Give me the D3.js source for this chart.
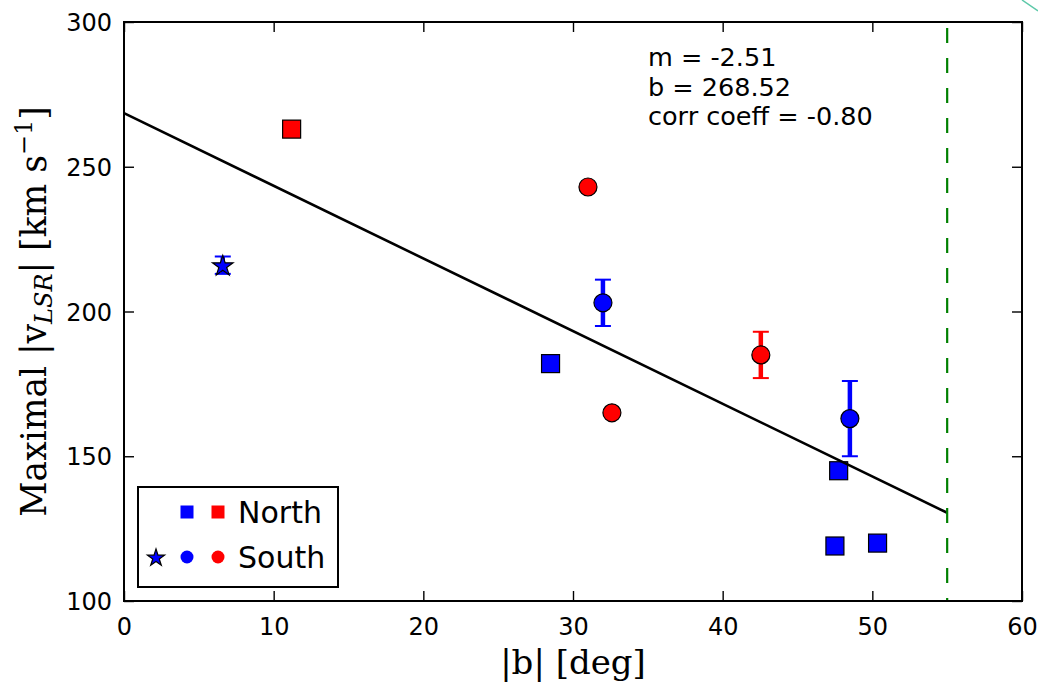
<!DOCTYPE html>
<html>
<head>
<meta charset="utf-8">
<script src="https://cdn.jsdelivr.net/npm/d3@7"></script>
<style>
  body { margin: 0; background: #fff; }
  svg { display: block; }
  .tick text { font-family: "DejaVu Sans", sans-serif; font-size: 24px; fill: #000; }
</style>
</head>
<body>
<div id="chart"></div>
<script>
// values
const bAbs   = [6.6, 11.2, 28.5, 31.0, 32.0, 32.6, 42.55, 47.5, 47.75, 48.5, 50.35];
const vMax   = [216, 263, 182, 243, 203, 165, 185, 119, 145, 163, 120];
const vErr   = [3, 0, 0, 0, 8, 0, 8, 0, 0, 13, 0];
const shapes = ["star", "square", "square", "circle", "circle", "circle", "circle", "square", "square", "circle", "square"];
const colors = ["blue", "red", "blue", "red", "blue", "red", "red", "blue", "blue", "blue", "blue"];

const fitSlope = -2.51;
const fitIntercept = 268.52;
const fitRange = [0, 55];
const bLimit = 55;
const fitText = ["m = -2.51", "b = 268.52", "corr coeff = -0.80"];

const xTicks = [0, 10, 20, 30, 40, 50, 60];
const yTicks = [100, 150, 200, 250, 300];

const legendRows = [
    { label: "North", marks: [["square", "blue"], ["square", "red"]] },
    { label: "South", marks: [["star", "blue"], ["circle", "blue"], ["circle", "red"]] }
];

const W = 1038, H = 685;
const pLeft = 124, pRight = 1022, pTop = 22, pBottom = 601;

const svg = d3.select("#chart")
    .append("svg")
    .attr("width", W)
    .attr("height", H);

const xScale = d3.scaleLinear().domain([0, 60]).range([pLeft, pRight]);
const yScale = d3.scaleLinear().domain([100, 300]).range([pBottom, pTop]);

// star path, matplotlib-like proportions
function starPath(R) {
    const r = R * 0.382;
    let pts = [];
    for (let i = 0; i < 10; i++) {
        const a = -Math.PI / 2 + i * Math.PI / 5;
        const rad = i % 2 === 0 ? R : r;
        pts.push([rad * Math.cos(a), rad * Math.sin(a)]);
    }
    return "M" + pts.map(p => p[0].toFixed(2) + "," + p[1].toFixed(2)).join("L") + "Z";
}

function drawMarker(g, shape, color, x, y, size, edge) {
    let m;
    if (shape === "square") {
        m = g.append("rect")
            .attr("x", x - size / 2).attr("y", y - size / 2)
            .attr("width", size).attr("height", size);
    } else if (shape === "circle") {
        m = g.append("circle").attr("cx", x).attr("cy", y).attr("r", size / 2);
    } else {
        m = g.append("path").attr("d", starPath(size * 0.6))
            .attr("transform", `translate(${x},${y + 1})`);
    }
    m.attr("fill", color)
        .attr("stroke", edge ? "#000" : "none")
        .attr("stroke-width", 1.2);
}

// axes (ticks pointing in on all four sides)
const xAxis = d3.axisBottom(xScale).tickValues(xTicks).tickSize(-10).tickPadding(17).tickFormat(d3.format("d"));
const yAxis = d3.axisLeft(yScale).tickValues(yTicks).tickSize(-10).tickPadding(12).tickFormat(d3.format("d"));

const gx = svg.append("g").attr("transform", `translate(0,${pBottom})`).call(xAxis);
const gy = svg.append("g").attr("transform", `translate(${pLeft},0)`).call(yAxis);
svg.append("g").attr("transform", `translate(0,${pTop})`)
    .call(d3.axisTop(xScale).tickValues(xTicks).tickSize(-10).tickFormat(""));
svg.append("g").attr("transform", `translate(${pRight},0)`)
    .call(d3.axisRight(yScale).tickValues(yTicks).tickSize(-10).tickFormat(""));
svg.selectAll(".domain").remove();
svg.selectAll(".tick line").attr("stroke", "#000").attr("stroke-width", 1.4);
gy.selectAll(".tick text").attr("dy", "0.36em");

// error bars
const plot = svg.append("g");
bAbs.forEach((b, i) => {
    if (vErr[i] > 0) {
        const x = xScale(b);
        plot.append("line")
            .attr("x1", x).attr("x2", x)
            .attr("y1", yScale(vMax[i] - vErr[i])).attr("y2", yScale(vMax[i] + vErr[i]))
            .attr("stroke", colors[i]).attr("stroke-width", 4.5);
        [vMax[i] - vErr[i], vMax[i] + vErr[i]].forEach(v => {
            plot.append("line")
                .attr("x1", x - 8).attr("x2", x + 8)
                .attr("y1", yScale(v)).attr("y2", yScale(v))
                .attr("stroke", colors[i]).attr("stroke-width", 2);
        });
    }
});

// data points
bAbs.forEach((b, i) => {
    drawMarker(plot, shapes[i], colors[i], xScale(b), yScale(vMax[i]), 18, true);
});

// fit line
const line = d3.line().x(d => xScale(d)).y(d => yScale(fitSlope * d + fitIntercept));
svg.append("path")
    .attr("d", line(fitRange))
    .attr("fill", "none")
    .attr("stroke", "#000")
    .attr("stroke-width", 2.6);

// limit line
svg.append("line")
    .attr("x1", xScale(bLimit)).attr("x2", xScale(bLimit))
    .attr("y1", pTop).attr("y2", pBottom)
    .attr("stroke", "#008000")
    .attr("stroke-width", 2.2)
    .attr("stroke-dasharray", "15,15")
    .attr("stroke-dashoffset", -6);

// frame
svg.append("rect")
    .attr("x", pLeft).attr("y", pTop)
    .attr("width", pRight - pLeft).attr("height", pBottom - pTop)
    .attr("fill", "none").attr("stroke", "#000").attr("stroke-width", 2);

// fit annotation
fitText.forEach((t, i) => {
    svg.append("text")
        .attr("x", 648).attr("y", 66 + i * 29.5)
        .style("font-family", "DejaVu Sans, sans-serif")
        .style("font-size", "25.5px")
        .text(t);
});

// legend
const lg = svg.append("g");
lg.append("rect")
    .attr("x", 138).attr("y", 487).attr("width", 200).attr("height", 100)
    .attr("fill", "#fff").attr("stroke", "#000").attr("stroke-width", 2);
legendRows.forEach((row, r) => {
    const cy = 512 + r * 45;
    const n = row.marks.length;
    row.marks.forEach((mk, j) => {
        const cx = 218 - (n - 1 - j) * 31;
        drawMarker(lg, mk[0], mk[1], cx, cy, mk[0] === "star" ? 15 : 13, mk[0] === "star");
    });
    lg.append("text")
        .attr("x", 238).attr("y", cy + 11)
        .style("font-family", "DejaVu Sans, sans-serif")
        .style("font-size", "30px")
        .text(row.label);
});

// axis labels
svg.append("text")
    .attr("x", (pLeft + pRight) / 2).attr("y", 674)
    .attr("text-anchor", "middle")
    .style("font-family", "DejaVu Serif, serif")
    .style("font-size", "34px")
    .text("|b| [deg]");

const yl = svg.append("text")
    .attr("transform", `translate(46,${(pTop + pBottom) / 2}) rotate(-90)`)
    .attr("text-anchor", "middle")
    .style("font-family", "DejaVu Serif, serif")
    .style("font-size", "34.5px");
yl.append("tspan").text("Maximal |v");
yl.append("tspan").attr("dy", 6).style("font-size", "24px").style("font-style", "italic").text("LSR");
yl.append("tspan").attr("dy", -6).text("| [km s");
yl.append("tspan").attr("dy", -14).style("font-size", "24px").text("\u22121");
yl.append("tspan").attr("dy", 14).text("]");

// small teal stroke in the corner
svg.append("line")
    .attr("x1", 1022).attr("y1", 0).attr("x2", 1038).attr("y2", 11)
    .attr("stroke", "#5cc8a8").attr("stroke-width", 1.5);
</script>
</body>
</html>
